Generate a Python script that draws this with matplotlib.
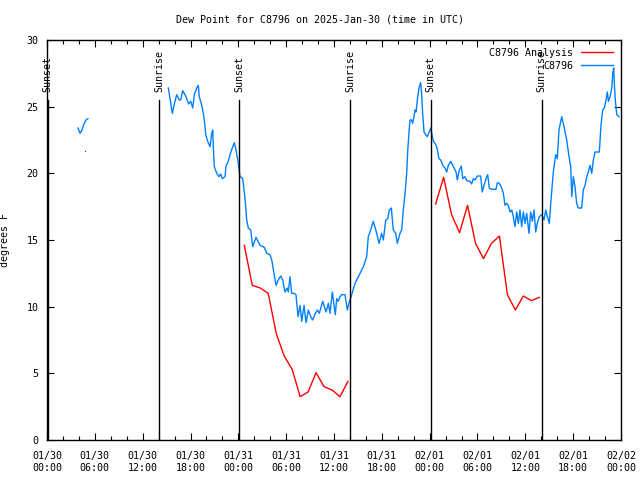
import numpy as np
import matplotlib
matplotlib.use("Agg")
import matplotlib.pyplot as plt
from matplotlib.ticker import MultipleLocator

# hours since 2025-01-30 00:00 UTC
obs_hours = [
    3.89, 4.14, 4.39, 4.64, 4.89, 5.14, 10.0,
    15.22, 15.43, 15.72, 15.97, 16.27, 16.60, 16.77, 17.02, 17.40, 17.77,
    18.03, 18.28, 18.48, 18.78, 18.98, 19.10, 19.41, 19.61, 19.78, 19.91,
    20.16, 20.45, 20.66, 20.79, 20.86, 20.99, 21.29, 21.58, 21.79, 21.99,
    22.33, 22.45, 22.74, 22.96, 23.24, 23.50, 23.71, 24.00, 24.21, 24.55,
    24.84, 25.05, 25.25, 25.55, 25.80, 26.22, 26.72, 27.26, 27.56, 27.97,
    28.19, 28.73, 29.01, 29.32, 29.57, 29.85, 30.14, 30.27, 30.48, 30.69,
    30.98, 31.23, 31.49, 31.74, 31.95, 32.24, 32.49, 32.78, 33.08, 33.33,
    33.62, 33.91, 34.16, 34.58, 35.00, 35.29, 35.50, 35.79, 36.16, 36.34,
    36.54, 36.75, 36.97, 37.38, 37.67, 37.88, 38.22, 38.64, 39.05, 39.68,
    40.10, 40.30, 40.60, 40.93, 41.36, 41.65, 41.98, 42.19, 42.49, 42.74,
    42.94, 43.19, 43.44, 43.74, 43.94, 44.28, 44.49, 44.69, 44.91, 45.12,
    45.24, 45.41, 45.53, 45.74, 45.86, 46.03, 46.16, 46.28, 46.37, 46.50,
    46.66, 46.87, 47.00, 47.12, 47.29, 47.50, 47.70, 47.95, 48.13, 48.26,
    48.46, 48.67, 48.88, 49.17, 49.39, 49.64, 49.92, 50.14, 50.34, 50.64,
    50.97, 51.31, 51.47, 51.72, 51.97, 52.15, 52.44, 52.65, 53.06, 53.27,
    53.48, 53.69, 53.98, 54.40, 54.60, 54.82, 55.07, 55.28, 55.48, 55.78,
    56.32, 56.49, 56.74, 57.04, 57.24, 57.45, 57.66, 57.86, 58.08, 58.29,
    58.49, 58.70, 58.92, 59.12, 59.33, 59.54, 59.75, 59.96, 60.17, 60.46,
    60.67, 60.88, 61.09, 61.30, 61.50, 61.75, 62.05, 62.34, 62.56, 62.76,
    63.01, 63.22, 63.51, 63.81, 64.01, 64.22, 64.56, 64.85, 65.19, 65.48,
    65.69, 65.82, 66.02, 66.23, 66.44, 66.64, 67.07, 67.27, 67.49, 67.70,
    67.90, 68.11, 68.33, 68.53, 68.74, 69.28, 69.49, 69.71, 69.91, 70.12,
    70.29, 70.42, 70.63, 70.84, 70.97, 71.09, 71.17, 71.30, 71.47, 71.75,
]
obs_dewpt = [
    23.4, 23.0, 23.25, 23.7, 24.0, 24.1, np.nan,
    26.4, 25.6, 24.5, 25.2, 25.9, 25.5, 25.5, 26.2, 25.8, 25.2,
    25.4, 24.9, 25.9, 26.4, 26.6, 25.75, 25.1, 24.5, 23.75, 22.9,
    22.4, 22.0, 23.0, 23.25, 22.0, 20.5, 20.0, 19.75, 19.95, 19.6,
    19.75, 20.55, 20.9, 21.4, 21.9, 22.3, 21.75, 20.75, 19.75, 19.6,
    18.1, 16.5, 15.9, 15.75, 14.5, 15.2, 14.6, 14.45, 14.0, 13.9,
    13.5, 11.6, 12.0, 12.3, 12.0, 11.1, 11.4, 11.1, 12.25, 11.0,
    11.0, 10.9, 9.25, 10.1, 8.9, 10.1, 8.8, 9.75, 9.25, 9.0,
    9.45, 9.75, 9.5, 10.4, 9.6, 10.25, 9.5, 11.1, 9.4, 10.6,
    10.4, 10.75, 10.9, 10.9, 9.75, 10.25, 10.9, 11.75, 12.25, 13.0,
    13.75, 15.25, 15.75, 16.4, 15.5, 14.75, 15.5, 15.0, 16.5, 16.6,
    17.25, 17.4, 15.75, 15.5, 14.75, 15.5, 15.75, 17.25, 18.5, 20.0,
    21.6, 23.1, 24.0, 24.0, 23.75, 24.25, 24.75, 24.6, 25.0, 25.75,
    26.4, 26.8, 25.9, 24.5, 23.1, 22.9, 22.75, 23.1, 23.4, 23.0,
    22.4, 22.25, 22.0, 21.1, 21.0, 20.6, 20.4, 20.1, 20.6, 20.9,
    20.5, 20.1, 19.5, 20.25, 20.55, 19.6, 19.75, 19.45, 19.4, 19.2,
    19.6, 19.5, 19.8, 19.8, 18.6, 19.1, 19.6, 19.9, 18.9, 18.8,
    18.8, 19.3, 19.25, 18.9, 18.5, 17.6, 17.75, 17.6, 17.1, 17.25,
    16.75, 16.0, 17.1, 16.25, 17.25, 16.0, 17.1, 16.25, 17.0, 15.5,
    17.1, 16.4, 17.25, 15.6, 16.25, 16.75, 16.9, 16.5, 17.25, 16.75,
    16.25, 18.0, 20.1, 21.4, 21.1, 23.25, 24.25, 23.5, 22.5, 21.25,
    20.5, 18.25, 19.75, 19.0, 17.75, 17.4, 17.4, 18.75, 19.1, 19.75,
    20.1, 20.6, 20.0, 21.0, 21.6, 21.6, 23.6, 24.75, 24.9, 25.5,
    26.1, 25.4, 25.75, 26.4, 27.5, 27.9, 26.6, 25.4, 24.4, 24.25,
]

ana_hours = [4.75, 10.0,
             24.75, 25.75, 26.75, 27.75, 28.75, 29.75, 30.75, 31.75, 32.75,
             33.75, 34.75, 35.75, 36.75, 37.75, 43.0,
             48.75, 49.75, 50.75, 51.75, 52.75, 53.75, 54.75, 55.75, 56.75,
             57.75, 58.75, 59.75, 60.75, 61.75]
ana_dewpt = [21.65, np.nan,
             14.6, 11.6, 11.4, 11.0, 8.0, 6.3, 5.3, 3.25, 3.6,
             5.05, 4.0, 3.75, 3.25, 4.4, np.nan,
             17.7, 19.7, 16.9, 15.55, 17.6, 14.75, 13.6, 14.75, 15.3,
             10.9, 9.75, 10.8, 10.45, 10.7]

sun_hours = [0.1, 14.05, 24.1, 38.0, 48.15, 62.05]
sun_labels = ["Sunset", "Sunrise", "Sunset", "Sunrise", "Sunset", "Sunrise"]

tick_hours = list(range(0, 73, 6))
tick_labels = ["01/30\n00:00", "01/30\n06:00", "01/30\n12:00", "01/30\n18:00",
               "01/31\n00:00", "01/31\n06:00", "01/31\n12:00", "01/31\n18:00",
               "02/01\n00:00", "02/01\n06:00", "02/01\n12:00", "02/01\n18:00",
               "02/02\n00:00"]

RED, BLUE = "#ff0000", "#0080ff"
FONT = "DejaVu Sans Mono"
FS = 7.2

plt.rcParams['font.family'] = [FONT]

fig = plt.figure(figsize=(6.4, 4.8), dpi=100, facecolor="white")
ax = fig.add_axes([47/640, 40/480, 574/640, 400/480])

lw = 1.0
ax.plot(ana_hours, ana_dewpt, color=RED, linewidth=lw, label="C8796 Analysis")
ax.plot(obs_hours, obs_dewpt, color=BLUE, linewidth=lw, label="C8796")

# isolated analysis points (no neighbours to draw a line to)
a = np.array(ana_dewpt, dtype=float)
for i, v in enumerate(a):
    prev_nan = i == 0 or np.isnan(a[i - 1])
    next_nan = i == len(a) - 1 or np.isnan(a[i + 1])
    if not np.isnan(v) and prev_nan and next_nan:
        ax.plot([ana_hours[i]], [v], marker="s", markersize=0.8,
                markeredgewidth=0, color=RED, linestyle="none")

for h, lab in zip(sun_hours, sun_labels):
    ax.plot([h, h], [0, 25.5], color="black", linewidth=1.0)
    ax.text(h, 26.1, lab, rotation=90, ha="center", va="bottom",
            fontsize=FS, family=FONT)

ax.set_xlim(0, 72)
ax.set_ylim(0, 30)
ax.set_xticks(tick_hours)
ax.set_xticklabels(tick_labels, fontsize=FS)
ax.xaxis.set_minor_locator(MultipleLocator(2))
ax.yaxis.set_major_locator(MultipleLocator(5))
ax.tick_params(axis="both", which="major", direction="in", length=5,
               width=0.8, top=True, right=True, labelsize=FS, pad=6)
ax.tick_params(axis="x", which="major", pad=8)
ax.tick_params(axis="both", which="minor", direction="in", length=3,
               width=0.8, top=True, right=True)
for s in ax.spines.values():
    s.set_linewidth(1.0)

ax.set_ylabel("degrees F", fontsize=FS)
ax.yaxis.set_label_coords(-37/574, 0.5)
fig.text(0.5, 1 - 19/480, "Dew Point for C8796 on 2025-Jan-30 (time in UTC)",
         ha="center", va="center", fontsize=FS)

leg = ax.legend(loc="upper right", fontsize=FS, frameon=False,
                handlelength=3.2, handletextpad=0.8, borderaxespad=0.4,
                labelspacing=0.3, markerfirst=False)

fig.savefig("out.png", dpi=100, facecolor="white")
